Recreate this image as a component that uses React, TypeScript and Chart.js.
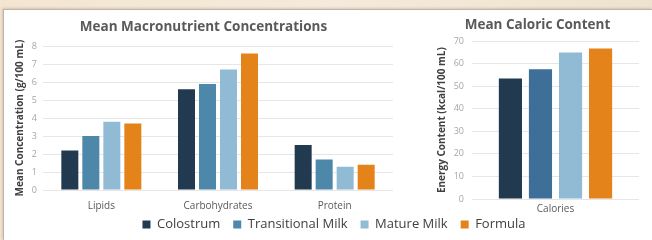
import React, { useEffect, useRef } from "react";
import { Chart, registerables } from "chart.js";

Chart.register(...registerables);

const seriesNames = ["Colostrum", "Transitional Milk", "Mature Milk", "Formula"];
const macroCategories = ["Lipids", "Carbohydrates", "Protein"];
const colostrumMacro = [2.2, 5.6, 2.5];
const transitionalMacro = [3.0, 5.9, 1.7];
const matureMacro = [3.8, 6.7, 1.3];
const formulaMacro = [3.7, 7.6, 1.4];
const calorieCategories = ["Calories"];
const colostrumCal = [53.5];
const transitionalCal = [57.6];
const matureCal = [65.0];
const formulaCal = [66.8];

const leftColors = ["#213A50", "#4D87A9", "#91BBD5", "#E3831A"];
const rightColors = ["#213A50", "#3E6F98", "#91BBD5", "#E3831A"];

const FONT = "'Open Sans', sans-serif";

function makeBarChart(
  canvas: HTMLCanvasElement,
  labels: string[],
  series: number[][],
  colors: string[],
  title: string,
  yTitle: string,
  yMax: number,
  yStep: number,
  opts: {
    cp: number;
    bp: number;
    padding: any;
    titlePad: any;
    xPad: number;
    tickPad: number;
    yTitlePad: any;
    yWidth: number;
  }
) {
  return new Chart(canvas, {
    type: "bar",
    data: {
      labels,
      datasets: series.map((d, i) => ({
        label: seriesNames[i],
        data: d,
        backgroundColor: colors[i],
        borderWidth: 0,
        categoryPercentage: opts.cp,
        barPercentage: opts.bp,
      })),
    },
    options: {
      responsive: false,
      animation: false,
      layout: { padding: opts.padding },
      plugins: {
        legend: { display: false },
        tooltip: { enabled: false },
        title: {
          display: true,
          text: title,
          color: "#595959",
          font: { family: FONT, size: 13.5, weight: "bold" },
          padding: opts.titlePad,
        },
      },
      scales: {
        x: {
          grid: { display: false, drawTicks: false },
          border: { display: false },
          ticks: { color: "#595959", font: { family: FONT, size: 10 }, padding: opts.xPad },
        },
        y: {
          min: 0,
          max: yMax,
          afterFit: (scale: any) => {
            scale.width = opts.yWidth;
          },
          grid: { color: "#E6E6E6", drawTicks: false },
          border: { display: false },
          ticks: { stepSize: yStep, color: "#A6A6A6", font: { family: FONT, size: 9 }, padding: opts.tickPad },
          title: {
            display: true,
            text: yTitle,
            color: "#404040",
            font: { family: FONT, size: 10, weight: "bold" },
            padding: opts.yTitlePad,
          },
        },
      },
    },
  });
}

export default function App() {
  const leftRef = useRef<HTMLCanvasElement>(null);
  const rightRef = useRef<HTMLCanvasElement>(null);
  const legendRef = useRef<HTMLCanvasElement>(null);

  useEffect(() => {
    const left = makeBarChart(
      leftRef.current!,
      macroCategories,
      [colostrumMacro, transitionalMacro, matureMacro, formulaMacro],
      leftColors,
      "Mean Macronutrient Concentrations",
      "Mean Concentration (g/100 mL)",
      8,
      1,
      {
        cp: 0.72,
        bp: 0.81,
        padding: { left: 10, right: 7, top: 0, bottom: 4 },
        titlePad: { top: 4, bottom: 11 },
        xPad: 10,
        tickPad: 6,
        yTitlePad: { top: 0, bottom: 2 },
        yWidth: 29,
      }
    );
    const right = makeBarChart(
      rightRef.current!,
      calorieCategories,
      [colostrumCal, transitionalCal, matureCal, formulaCal],
      rightColors,
      "Mean Caloric Content",
      "Energy Content (kcal/100 mL)",
      70,
      10,
      {
        cp: 0.72,
        bp: 0.77,
        padding: { left: 8, right: 13, top: 0, bottom: 1 },
        titlePad: { top: 3, bottom: 8 },
        xPad: 4,
        tickPad: 8,
        yTitlePad: { top: 0, bottom: 2 },
        yWidth: 36,
      }
    );
    const legend = new Chart(legendRef.current!, {
      type: "bar",
      data: {
        labels: [],
        datasets: seriesNames.map((n, i) => ({ label: n, data: [], backgroundColor: leftColors[i] })),
      },
      options: {
        responsive: false,
        animation: false,
        scales: { x: { display: false }, y: { display: false } },
        plugins: {
          tooltip: { enabled: false },
          legend: {
            display: true,
            position: "top",
            labels: {
              color: "#404040",
              font: { family: FONT, size: 13 },
              boxWidth: 8,
              boxHeight: 8,
              padding: 13,
            },
          },
        },
      },
    });
    return () => {
      left.destroy();
      right.destroy();
      legend.destroy();
    };
  }, []);

  return (
    <div
      style={{
        position: "absolute",
        left: 0,
        top: 0,
        width: 652,
        height: 240,
        overflow: "hidden",
        background: "linear-gradient(90deg, #F3E5D1 0%, #F5EADB 50%, #EFE2CF 100%)",
      }}
    >
      <div
        style={{
          position: "absolute",
          left: 3,
          top: 9,
          right: 0,
          bottom: 0,
          background: "#FFFFFF",
          borderTop: "1px solid #BDB6AC",
          borderLeft: "1px solid #BDB6AC",
          boxShadow: "-1px -1px 2px rgba(120,100,80,0.25)",
        }}
      />
      <canvas ref={leftRef} width={396} height={211} style={{ position: "absolute", left: 4, top: 15 }} />
      <canvas ref={rightRef} width={224} height={206} style={{ position: "absolute", left: 428, top: 14 }} />
      <canvas ref={legendRef} width={634} height={80} style={{ position: "absolute", left: 17, top: 205 }} />
    </div>
  );
}
